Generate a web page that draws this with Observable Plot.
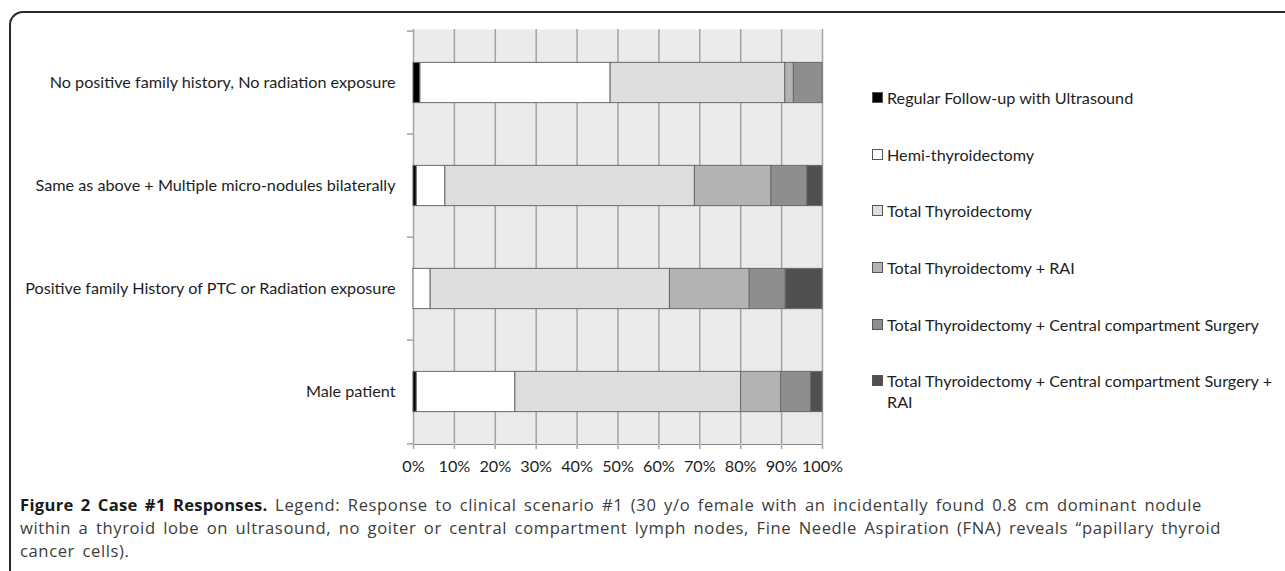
<!DOCTYPE html>
<html>
<head>
<meta charset="utf-8">
<script src="https://cdn.jsdelivr.net/npm/d3@7"></script>
<script src="https://cdn.jsdelivr.net/npm/@observablehq/plot@0.6"></script>
<style>
  body { margin: 0; background: #fff; }
  #wrap { position: relative; width: 1285px; height: 571px; overflow: hidden; background: #fff; }
  #frame { position: absolute; left: 9px; top: 11px; width: 1400px; height: 700px;
           border-top: 2px solid #2a2a2a; border-left: 2px solid #2a2a2a; border-top-left-radius: 14px; }
  #chart { position: absolute; left: 0; top: 0; }
  #chart svg { overflow: visible; }
  #legend { position: absolute; left: 872px; top: 87px; font-family: Lato, sans-serif; font-size: 16.2px; color: #1e1e1e; }
  .item { position: relative; height: 56.7px; padding-left: 15px; line-height: 21px; white-space: nowrap; }
  .sw { position: absolute; left: 0; top: 5px; width: 9px; height: 9px; border: 1px solid #555; }
  #caption { position: absolute; left: 20px; top: 493px; font-family: "Open Sans", sans-serif; font-size: 16.6px;
             letter-spacing: 0.6px; word-spacing: 2.6px;
             line-height: 23px; color: #3c3c3c; white-space: nowrap; }
  #caption b { color: #1a1a1a; letter-spacing: 0.3px; }
  [aria-label^="x-axis"] line, [aria-label^="x-axis"] path { stroke: #a3a3a3; stroke-opacity: 1; stroke-width: 1.5; }
</style>
</head>
<body>
<div id="wrap">
  <div id="frame"></div>
  <div id="chart"></div>
  <div id="legend"></div>
  <div id="caption">
    <b>Figure 2 Case #1 Responses.</b> Legend: Response to clinical scenario #1 (30 y/o female with an incidentally found 0.8 cm dominant nodule<br>
    within a thyroid lobe on ultrasound, no goiter or central compartment lymph nodes, Fine Needle Aspiration (FNA) reveals “papillary thyroid<br>
    cancer cells).
  </div>
</div>
<script>
const categories = [
  "No positive family history, No radiation exposure",
  "Same as above + Multiple micro-nodules bilaterally",
  "Positive family History of PTC or Radiation exposure",
  "Male patient"
];
const responses = [
  "Regular Follow-up with Ultrasound",
  "Hemi-thyroidectomy",
  "Total Thyroidectomy",
  "Total Thyroidectomy + RAI",
  "Total Thyroidectomy + Central compartment Surgery",
  "Total Thyroidectomy + Central compartment Surgery + RAI"
];
const colors = ["#000000", "#ffffff", "#dedede", "#b3b3b3", "#8e8e8e", "#505050"];
// percent values per category, in response order
const regularFollowUp = [1.7, 0.8, 0.0, 0.8];
const hemiThyroidectomy = [46.5, 7.0, 4.2, 24.1];
const totalThyroidectomy = [42.7, 61.0, 58.5, 55.2];
const totalPlusRAI = [2.1, 18.7, 19.5, 9.8];
const totalPlusCentral = [7.0, 8.8, 8.8, 7.3];
const totalPlusCentralRAI = [0.0, 3.7, 9.0, 2.8];
const xTicks = [0, 10, 20, 30, 40, 50, 60, 70, 80, 90, 100];

const series = [regularFollowUp, hemiThyroidectomy, totalThyroidectomy, totalPlusRAI, totalPlusCentral, totalPlusCentralRAI];
const rows = [];
categories.forEach((c, i) => {
  series.forEach((s, j) => {
    if (s[i] > 0) rows.push({category: c, response: responses[j], value: s[i]});
  });
});

const W = 850, H = 480, mt = 29, mb = 36, ml = 413, mr = 28;
const bw = (H - mt - mb) / categories.length;
const barInset = (bw - 41) / 2;
const grid = "#a3a3a3";

const chart = Plot.plot({
  width: W, height: H,
  marginTop: mt, marginBottom: mb, marginLeft: ml, marginRight: mr,
  style: {fontFamily: "Lato, sans-serif", fontSize: "16.2px", color: "#1e1e1e", background: "transparent"},
  x: {domain: [0, 100], ticks: xTicks, tickFormat: d => d + "%", tickSize: 5, tickPadding: 11, line: true, label: null},
  y: {domain: categories, padding: 0, tickSize: 0, tickPadding: 18, label: null},
  color: {domain: responses, range: colors},
  marks: [
    Plot.frame({fill: "#ebebeb", stroke: null}),
    Plot.ruleX(xTicks, {stroke: grid, strokeWidth: 1.5}),
    Plot.ruleY(categories, {y: d => d, x1: -1.5, x2: 0, dy: -bw / 2, stroke: grid, strokeWidth: 1.5}),
    Plot.ruleY(categories.slice(-1), {y: d => d, x1: -1.5, x2: 0, dy: bw / 2, stroke: grid, strokeWidth: 1.5}),
    Plot.barX(rows, Plot.stackX({
      x: "value", y: "category", fill: "response",
      insetTop: barInset, insetBottom: barInset,
      stroke: "#6a6a6a", strokeWidth: 1
    }))
  ]
});
document.getElementById("chart").appendChild(chart);

const legend = document.getElementById("legend");
responses.forEach((r, i) => {
  const item = document.createElement("div");
  item.className = "item";
  const sw = document.createElement("span");
  sw.className = "sw";
  sw.style.background = colors[i];
  item.appendChild(sw);
  const t = document.createElement("span");
  t.innerHTML = r === "Total Thyroidectomy + Central compartment Surgery + RAI"
    ? "Total Thyroidectomy + Central compartment Surgery +<br>RAI" : r;
  item.appendChild(t);
  legend.appendChild(item);
});
</script>
</body>
</html>
